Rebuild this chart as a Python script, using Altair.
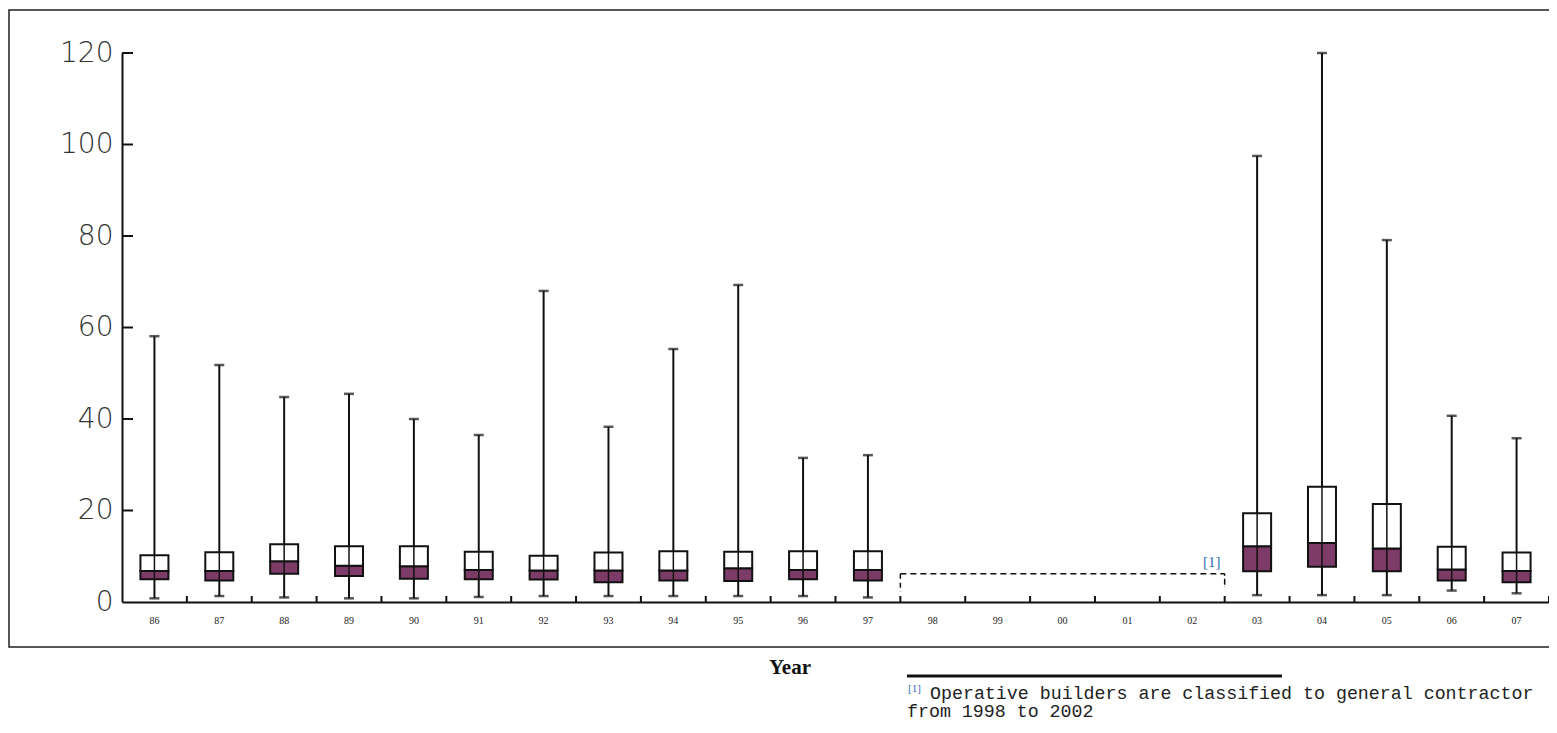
import altair as alt
import pandas as pd

years = ["86", "87", "88", "89", "90", "91", "92", "93", "94", "95", "96", "97",
         "98", "99", "00", "01", "02", "03", "04", "05", "06", "07"]
w_min = [0.8, 1.3, 1.0, 0.8, 0.8, 1.1, 1.3, 1.3, 1.3, 1.3, 1.3, 1.0,
         None, None, None, None, None, 1.5, 1.5, 1.5, 2.5, 1.9]
q1 = [5.0, 4.7, 6.2, 5.7, 5.1, 5.0, 4.9, 4.3, 4.7, 4.6, 5.0, 4.7,
      None, None, None, None, None, 6.7, 7.7, 6.7, 4.7, 4.3]
med = [6.8, 6.8, 8.9, 7.9, 7.8, 7.0, 6.9, 6.9, 6.9, 7.4, 7.0, 7.0,
       None, None, None, None, None, 12.2, 12.9, 11.7, 7.1, 6.8]
q3 = [10.2, 10.9, 12.6, 12.2, 12.2, 11.0, 10.1, 10.8, 11.1, 11.0, 11.1, 11.1,
      None, None, None, None, None, 19.4, 25.2, 21.4, 12.1, 10.8]
w_max = [58.1, 51.8, 44.8, 45.5, 40.0, 36.5, 68.0, 38.3, 55.3, 69.3, 31.5, 32.1,
         None, None, None, None, None, 97.5, 120.0, 79.1, 40.7, 35.8]
y_ticks = [20, 40, 60, 80, 100, 120]
bracket_start = "98"
bracket_end = "02"
bracket_level = 6.2
bracket_left_low = 2.2
bracket_right_low = 3.3
note_mark_level = 8.7
note_mark = "[1]"
x_title = "Year"
footnote_1 = "Operative builders are classified to general contractor"
footnote_2 = "from 1998 to 2002"

df = pd.DataFrame({"year": years, "lo": w_min, "q1": q1, "med": med, "q3": q3, "hi": w_max})
ticks_df = pd.DataFrame({"v": y_ticks})
bracket_df = pd.DataFrame({"year": [bracket_start], "year_end": [bracket_end],
                           "y": [bracket_level], "yl": [bracket_left_low], "yr": [bracket_right_low],
                           "ym": [note_mark_level], "t": [note_mark]})

W, H = 1427, 549
HALF = W / len(years) / 2
PURPLE = "#7d3b68"

xs = alt.X("year:N", scale=alt.Scale(domain=years, paddingInner=0, paddingOuter=0),
           sort=years,
           axis=alt.Axis(title=None, labelAngle=0, labelFont="Liberation Serif", labelFontSize=10,
                         labelColor="#222", ticks=False, labelPadding=13, domainColor="#111",
                         domainWidth=2, grid=False))
ys = alt.Y("lo:Q", scale=alt.Scale(domain=[0, 120], nice=False, zero=True),
           axis=alt.Axis(title=None, values=[0, 20, 40, 60, 80, 100, 120], labelFont="DejaVu Sans",
                         labelFontSize=28, labelFontWeight=200, labelColor="#333", tickSize=0,
                         labelPadding=9, domainColor="#111", domainWidth=2, grid=False))

base = alt.Chart(df)

whisk = base.mark_rule(color="#111", strokeWidth=2).encode(x=xs, y=ys, y2="hi:Q")
lower = base.mark_bar(size=28, color=PURPLE, stroke="#111", strokeWidth=2).encode(
    x=xs, y=alt.Y("q1:Q"), y2="med:Q")
upper = base.mark_bar(size=28, color="white", stroke="#111", strokeWidth=2).encode(
    x=xs, y=alt.Y("med:Q"), y2="q3:Q")
whisk_in = base.mark_rule(color="#111", strokeWidth=1.5).encode(x=xs, y=alt.Y("q1:Q"), y2="q3:Q")
cap_lo = base.mark_tick(color="#111", size=10, thickness=2.5, orient="horizontal").encode(
    x=xs, y=alt.Y("lo:Q"))
cap_hi = base.mark_tick(color="#111", size=10, thickness=2.5, orient="horizontal").encode(
    x=xs, y=alt.Y("hi:Q"))

yticks = alt.Chart(ticks_df).mark_rule(color="#111", strokeWidth=2).encode(
    y=alt.Y("v:Q"), x=alt.value(0), x2=alt.value(11))
xticks = base.mark_rule(color="#111", strokeWidth=2, xOffset=HALF).encode(
    x=xs, y=alt.value(H - 6), y2=alt.value(H))

bch = alt.Chart(bracket_df)
b_h = bch.mark_rule(color="#111", strokeWidth=1.5, strokeDash=[6, 4], xOffset=-HALF, x2Offset=HALF).encode(
    x=alt.X("year:N"), x2="year_end:N", y=alt.Y("y:Q"))
b_l = bch.mark_rule(color="#111", strokeWidth=1.5, strokeDash=[5, 4], xOffset=-HALF).encode(
    x=alt.X("year:N"), y=alt.Y("y:Q"), y2="yl:Q")
b_r = bch.mark_rule(color="#111", strokeWidth=1.5, strokeDash=[2, 3, 6, 2], xOffset=HALF).encode(
    x=alt.X("year_end:N"), y=alt.Y("y:Q"), y2="yr:Q")
b_t = bch.mark_text(color="#2f6fb0", font="Liberation Serif", fontSize=15, align="center",
                    baseline="middle", xOffset=HALF - 13).encode(
    x=alt.X("year_end:N"), y=alt.Y("ym:Q"), text="t:N")

frame = alt.Chart(pd.DataFrame({"k": [0]})).mark_rect(fill=None, stroke="#222", strokeWidth=1.5).encode(
    x=alt.value(-113), x2=alt.value(W + 20), y=alt.value(-43), y2=alt.value(594))

year_t = alt.Chart(pd.DataFrame({"t": [x_title]})).mark_text(
    font="Liberation Serif", fontSize=21, fontWeight="bold", color="#111", align="center",
    baseline="middle").encode(x=alt.value(668), y=alt.value(615), text="t:N")
fn_line = alt.Chart(pd.DataFrame({"k": [0]})).mark_rule(color="#111", strokeWidth=3).encode(
    x=alt.value(785), x2=alt.value(1160), y=alt.value(623))
fn_mark = alt.Chart(pd.DataFrame({"t": [note_mark]})).mark_text(
    font="Liberation Serif", fontSize=11, color="#2f6fb0", align="left", baseline="middle").encode(
    x=alt.value(786), y=alt.value(636), text="t:N")
fn1 = alt.Chart(pd.DataFrame({"t": [footnote_1]})).mark_text(
    font="Liberation Mono", fontSize=18.3, color="#222", align="left", baseline="middle").encode(
    x=alt.value(808), y=alt.value(641), text="t:N")
fn2 = alt.Chart(pd.DataFrame({"t": [footnote_2]})).mark_text(
    font="Liberation Mono", fontSize=18.3, color="#222", align="left", baseline="middle").encode(
    x=alt.value(785), y=alt.value(659), text="t:N")

chart = alt.layer(
    frame, whisk, lower, upper, whisk_in, cap_lo, cap_hi, yticks, xticks,
    b_h, b_l, b_r, b_t, year_t, fn_line, fn_mark, fn1, fn2
).properties(
    width=W, height=H,
    autosize=alt.AutoSizeParams(type="none"),
    padding={"left": 114, "top": 45, "right": 0, "bottom": 122},
    background="white"
).configure_view(stroke=None).configure_axis(grid=False)

chart.save("out.html", embed_options={"renderer": "svg", "actions": False})
